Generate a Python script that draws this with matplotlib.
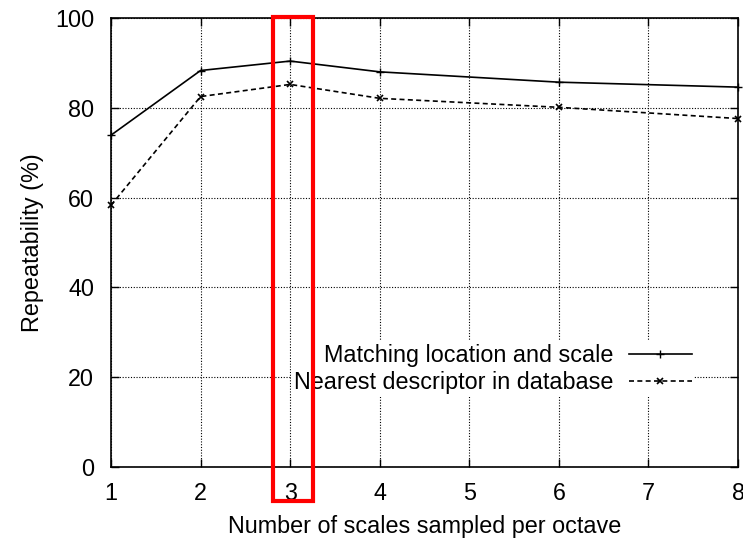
import matplotlib
matplotlib.use('Agg')
import matplotlib.pyplot as plt
from matplotlib.patches import Rectangle

# data
scales      = [1, 2, 3, 4, 6, 8]
matching    = [73.9, 88.3, 90.4, 88.0, 85.7, 84.6]
nearest     = [58.3, 82.5, 85.2, 82.1, 80.1, 77.6]
xticks      = [1, 2, 3, 4, 5, 6, 7, 8]
yticks      = [0, 20, 40, 60, 80, 100]
highlight   = (2.81, 3.25)   # x-range of the red box

plt.rcParams['font.family'] = ['Liberation Sans', 'DejaVu Sans']
plt.rcParams['font.size'] = 16.8

fig = plt.figure(figsize=(7.43, 5.43), dpi=100)
ax = fig.add_axes([0.1494, 0.140, 0.8439, 0.8269])

ax.plot(scales, matching, color='black', lw=1.2, marker='+', ms=6, mew=1,
        label='Matching location and scale', clip_on=False, zorder=3)
ax.plot(scales, nearest, color='black', lw=1.2, ls=(0, (3, 2)), marker='x', ms=5, mew=1.2,
        label='Nearest descriptor in database', clip_on=False, zorder=3)

ax.set_xlim(1, 8)
ax.set_ylim(0, 100)
ax.set_xticks(xticks)
ax.set_yticks(yticks)
ax.grid(True, color='black', ls=(0, (1, 1.5)), lw=0.8)
ax.tick_params(direction='in', top=True, right=True, length=6, width=1)
ax.tick_params(axis='x', pad=11)
ax.tick_params(axis='y', pad=12)
for s in ax.spines.values():
    s.set_linewidth(1.2)

ax.set_xlabel('Number of scales sampled per octave', labelpad=7)
ax.set_ylabel('Repeatability (%)', labelpad=8)

leg = ax.legend(loc='center right', bbox_to_anchor=(0.930, 0.218), markerfirst=False,
                frameon=True, fancybox=False, edgecolor='none', framealpha=1,
                handlelength=2.7, handletextpad=0.68, labelspacing=0.2,
                borderpad=0.1, borderaxespad=0)

# red highlight box around x = 3
rect = Rectangle((highlight[0], -7.6), highlight[1] - highlight[0], 107.8,
                 fill=False, edgecolor='#ff0000', lw=3, clip_on=False, zorder=10)
ax.add_patch(rect)

fig.savefig('out.png', dpi=100)
